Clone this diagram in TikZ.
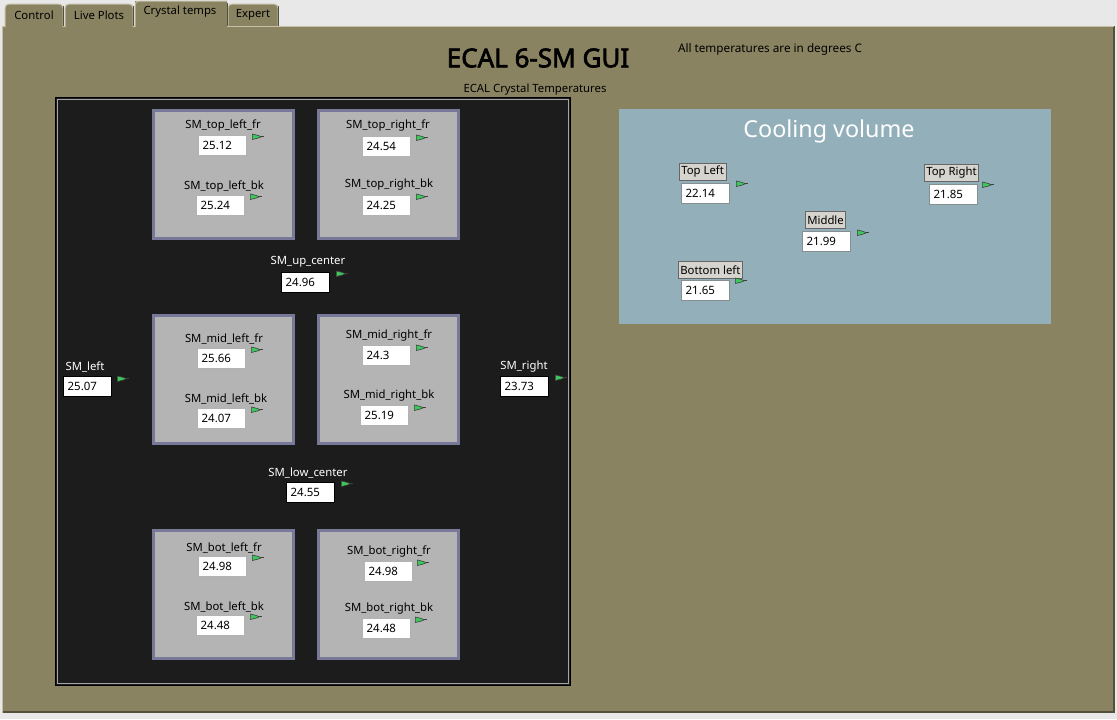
\documentclass[tikz,border=0pt]{standalone}
\usepackage{fontspec}
\setmainfont{Noto Sans}[AutoFakeBold=2.5]
\usepackage{xcolor}
\usepackage{tikz}

\definecolor{stripgray}{RGB}{232,232,232}
\definecolor{paneolive}{RGB}{138,131,98}
\definecolor{panelight}{RGB}{196,192,168}
\definecolor{panedark}{RGB}{84,80,60}
\definecolor{smblack}{RGB}{28,28,28}
\definecolor{smgray}{RGB}{180,180,180}
\definecolor{smframe}{RGB}{120,120,152}
\definecolor{coolblue}{RGB}{147,175,186}
\definecolor{btngray}{RGB}{214,212,206}
\definecolor{flaggreen}{RGB}{60,200,90}

\tikzset{
  smlabel/.style={font=\fontsize{8.5}{10}\selectfont, inner sep=0pt, text=black, yshift=-1.5pt},
  smwhite/.style={smlabel, text=white},
  valbox/.style={draw=gray!60, fill=white, line width=1pt, anchor=north west,
    minimum height=15pt, text width=30pt, inner xsep=3pt, inner ysep=0pt, align=left,
    font=\fontsize{8.6}{10}\selectfont},
  smbox/.style={fill=smgray, draw=smframe, line width=2.25pt},
  coolbtn/.style={fill=btngray, draw=gray!80!black, line width=0.5pt, anchor=north west,
    minimum height=12.75pt, inner xsep=1.5pt, inner ysep=0pt, font=\fontsize{8.5}{10}\selectfont},
  tabshape/.style={fill=paneolive, draw=panelight, line width=0.75pt, rounded corners=3},
  pennant/.pic={
    \filldraw[fill=flaggreen, draw=black!75, line width=0.45pt] (0,0) -- (6,1.5) -- (9,2.8) -- (6,4) -- (0,5.5) -- cycle;
    \draw[black!75, line width=0.55pt] (9,2.8) -- (12,2.8);
  }
}

\begin{document}
\begin{tikzpicture}[x=0.75pt, y=-0.75pt]
	\useasboundingbox (0,0) rectangle (1117,719);
	% window and tab page
	\fill[stripgray] (0,0) rectangle (1117,719);
	\fill[paneolive] (2,26) rectangle (1115,713);
	\draw[panelight, line width=0.75pt] (2.5,713) -- (2.5,26.5) -- (135,26.5);
	\draw[panedark, line width=1.5pt] (3,712) -- (1114,712) -- (1114,26);
	\filldraw[tabshape] (5,27) -- (5,4) -- (63,4) -- (63,27);
	\filldraw[tabshape] (65,27) -- (65,4) -- (133,4) -- (133,27);
	\filldraw[tabshape] (228,27) -- (228,4) -- (278,4) -- (278,27);
	\draw[panedark, line width=0.75pt] (63,6) -- (63,26) (133,6) -- (133,26) (278,6) -- (278,26);
	\fill[paneolive] (135,30) -- (135,1) -- (227,1) -- (227,30);
	\draw[panelight, line width=0.75pt, rounded corners=3] (135,27) -- (135,1) -- (227,1);
	\draw[panedark, line width=0.75pt] (227,3) -- (227,27);
	\draw[panelight, line width=0.75pt] (227,26.5) -- (1114,26.5);
	\node[smlabel] (tabctl) at (34,13) {Control};
	\node[smlabel] (tabplots) at (99,13) {Live Plots};
	\node[smlabel] (tabtemps) at (180,10) {Crystal temps};
	\node[smlabel] (tabexpert) at (253,13) {Expert};

	% headings
	\node[font=\fontsize{19.5}{22}\selectfont\bfseries, text=black] (title) at (538,58) {ECAL 6-SM GUI};
	\node[smlabel, font=\fontsize{8.8}{10}\selectfont] (units) at (770,47) {All temperatures are in degrees C};
	\node[smlabel] (subtitle) at (535,88) {ECAL Crystal Temperatures};

	% crystal panel
	\filldraw[fill=smblack, draw=black, line width=0.75pt] (55,97) rectangle (570,685);
	\draw[gray!70, line width=0.75pt] (57,99) rectangle (568,683);
	\draw[smbox] (153.5,110.5) rectangle (293.5,238.5);
	\draw[smbox] (318.5,110.5) rectangle (458.5,238.5);
	\draw[smbox] (153.5,315.5) rectangle (293.5,443.5);
	\draw[smbox] (318.5,315.5) rectangle (458.5,443.5);
	\draw[smbox] (153.5,530.5) rectangle (293.5,658.5);
	\draw[smbox] (318.5,530.5) rectangle (458.5,658.5);

	\node[smlabel] (tlflab) at (223,124) {SM\_top\_left\_fr};
	\node[valbox] (tlf) at (198,135) {25.12};
	\pic at ([shift={(5,-1)}]tlf.north east) {pennant};
	\node[smlabel] (tlblab) at (224,185) {SM\_top\_left\_bk};
	\node[valbox] (tlb) at (196,195) {25.24};
	\pic at ([shift={(5,-1)}]tlb.north east) {pennant};
	\node[smlabel] (trflab) at (388,124) {SM\_top\_right\_fr};
	\node[valbox] (trf) at (362,136) {24.54};
	\pic at ([shift={(5,-1)}]trf.north east) {pennant};
	\node[smlabel] (trblab) at (389,183) {SM\_top\_right\_bk};
	\node[valbox] (trb) at (362,195) {24.25};
	\pic at ([shift={(5,-1)}]trb.north east) {pennant};

	\node[smwhite] (upclab) at (308,260) {SM\_up\_center};
	\node[valbox, draw=black] (upc) at (281,272) {24.96};
	\pic at ([shift={(6,-1)}]upc.north east) {pennant};

	\node[smlabel] (mlflab) at (224,337) {SM\_mid\_left\_fr};
	\node[valbox] (mlf) at (197,348) {25.66};
	\pic at ([shift={(5,-1)}]mlf.north east) {pennant};
	\node[smlabel] (mlblab) at (226,397) {SM\_mid\_left\_bk};
	\node[valbox] (mlb) at (197,408) {24.07};
	\pic at ([shift={(5,-1)}]mlb.north east) {pennant};
	\node[smlabel] (mrflab) at (389,334) {SM\_mid\_right\_fr};
	\node[valbox] (mrf) at (362,345) {24.3};
	\pic at ([shift={(5,0)}]mrf.north east) {pennant};
	\node[smlabel] (mrblab) at (389,394) {SM\_mid\_right\_bk};
	\node[valbox] (mrb) at (360,405) {25.19};
	\pic at ([shift={(5,0)}]mrb.north east) {pennant};

	\node[smwhite] (leftlab) at (85,365) {SM\_left};
	\node[valbox, draw=black] (smleft) at (63,376) {25.07};
	\pic at ([shift={(5,0)}]smleft.north east) {pennant};
	\node[smwhite] (rightlab) at (524,365) {SM\_right};
	\node[valbox, draw=black] (smright) at (500,376) {23.73};
	\pic at ([shift={(6,-1)}]smright.north east) {pennant};

	\node[smwhite] (lowclab) at (308,471) {SM\_low\_center};
	\node[valbox, draw=black] (lowc) at (286,482) {24.55};
	\pic at ([shift={(6,-1)}]lowc.north east) {pennant};

	\node[smlabel] (blflab) at (224,546) {SM\_bot\_left\_fr};
	\node[valbox] (blf) at (198,556) {24.98};
	\pic at ([shift={(5,-1)}]blf.north east) {pennant};
	\node[smlabel] (blblab) at (224,605) {SM\_bot\_left\_bk};
	\node[valbox] (blb) at (196,615) {24.48};
	\pic at ([shift={(5,-1)}]blb.north east) {pennant};
	\node[smlabel] (brflab) at (389,550) {SM\_bot\_right\_fr};
	\node[valbox] (brf) at (364,561) {24.98};
	\pic at ([shift={(4,-1)}]brf.north east) {pennant};
	\node[smlabel] (brblab) at (389,607) {SM\_bot\_right\_bk};
	\node[valbox] (brb) at (362,618) {24.48};
	\pic at ([shift={(4,-1)}]brb.north east) {pennant};

	% cooling volume panel
	\fill[coolblue] (619,109) rectangle (1051,324);
	\node[font=\fontsize{17.5}{20}\selectfont, text=white] (cooltitle) at (829,131) {Cooling volume};
	\node[coolbtn] (tlbtn) at (679,163) {Top Left};
	\node[valbox, draw=gray!70!coolblue] (cooltl) at (681,183) {22.14};
	\pic at ([shift={(6,-2)}]cooltl.north east) {pennant};
	\node[coolbtn] (trbtn) at (924,164) {Top Right};
	\node[valbox, draw=gray!70!coolblue] (cooltr) at (929,184) {21.85};
	\pic at ([shift={(4,-2)}]cooltr.north east) {pennant};
	\node[coolbtn] (midbtn) at (805,211) {Middle};
	\node[valbox, draw=gray!70!coolblue] (coolmid) at (802,231) {21.99};
	\pic at ([shift={(6,-1)}]coolmid.north east) {pennant};
	\node[coolbtn] (blbtn) at (678,261) {Bottom left};
	\node[valbox, draw=gray!70!coolblue] (coolbl) at (681,280) {21.65};
	\pic at ([shift={(5,-2)}]coolbl.north east) {pennant};
\end{tikzpicture}
\end{document}
